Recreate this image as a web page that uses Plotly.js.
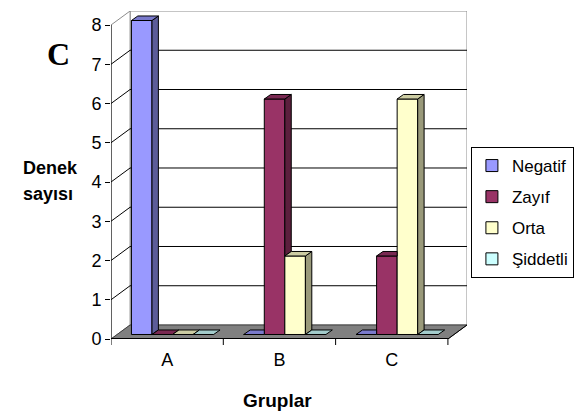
<!DOCTYPE html>
<html>
<head>
<meta charset="utf-8">
<script src="https://cdn.plot.ly/plotly-3.0.1.min.js"></script>
<style>
  html, body { margin: 0; padding: 0; background: #fff; }
  #chart { width: 585px; height: 417px; }
</style>
</head>
<body>
<div id="chart"></div>
<script>
// ---- Data ----
const groups = ['A', 'B', 'C'];
const seriesNames = ['Negatif', 'Zayıf', 'Orta', 'Şiddetli'];
const negatif = [8, 0, 0];
const zayif = [0, 6, 2];
const orta = [0, 2, 6];
const siddetli = [0, 0, 0];
const yTicks = [0, 1, 2, 3, 4, 5, 6, 7, 8];
const xTitle = 'Gruplar';
const yTitleLines = ['Denek', 'sayısı'];
const panelLabel = 'C';

// ---- Colours (front / top / side faces of each series) ----
const frontColors = ['#9999FF', '#993366', '#FFFFCC', '#CCFFFF'];
const topColors   = ['#7A7ACC', '#7A2952', '#CCCCA3', '#A3CCCC'];
const sideColors  = ['#5C5C99', '#5C1F3D', '#99997A', '#7A9999'];

// ---- 3-D look, in axis units ----
const WX = 0.17, WY = 0.357;   // offset of back wall from front plane
const BW = 0.183;              // bar width
const FX = 0.048, FY = 0.115;  // bar front face offset
const DX = 0.057, DY = 0.115;  // bar depth

const seriesValues = [negatif, zayif, orta, siddetli];
const yMax = yTicks[yTicks.length - 1];
const nCat = groups.length;
const xLo = -0.5, xHi = nCat - 0.5;
const font = 'Liberation Sans, Arial, sans-serif';

function barLeft(c, s) {
  return c + (s - (seriesValues.length - 1) / 2) * BW + FX - BW / 2;
}

function face(xs, ys, color) {
  return {
    type: 'scatter', mode: 'lines', x: xs.concat([xs[0]]), y: ys.concat([ys[0]]),
    fill: 'toself', fillcolor: color, line: { color: '#000', width: 1 },
    showlegend: false, hoverinfo: 'skip'
  };
}

// Front faces as bars
const traces = seriesValues.map((vals, s) => ({
  type: 'bar',
  name: seriesNames[s],
  legendgroup: seriesNames[s],
  x: groups.map((g, c) => barLeft(c, s) + BW / 2),
  y: vals,
  base: FY,
  width: BW,
  marker: { color: frontColors[s], line: { color: '#000', width: 1 } },
  hoverinfo: 'skip'
}));

// Top and side faces, hidden parts trimmed where the next bar stands in front
groups.forEach((g, c) => {
  seriesValues.forEach((vals, s) => {
    const v = vals[c];
    const next = s < seriesValues.length - 1 ? seriesValues[s + 1][c] : 0;
    const x0 = barLeft(c, s), x1 = x0 + BW, b = FY;
    if (v > next) {
      traces.push(face([x1, x1, x1 + DX, x1 + DX],
                       [b + next, b + v, b + v + DY, b + next + DY], sideColors[s]));
    }
    if (next > v) {
      traces.push(face([x0, x1, x1, x0 + DX],
                       [b + v, b + v, b + v + DY, b + v + DY], topColors[s]));
    } else {
      traces.push(face([x0, x1, x1 + DX, x0 + DX],
                       [b + v, b + v, b + v + DY, b + v + DY], topColors[s]));
    }
  });
});

// ---- Walls, floor, gridlines, axis lines ----
const shapes = [];
function pathShape(pts, fill, lineColor, lineWidth) {
  const d = pts.map((p, i) => (i ? 'L' : 'M') + p[0] + ',' + p[1]).join(' ') + ' Z';
  return { type: 'path', xref: 'x', yref: 'y', path: d, fillcolor: fill,
           line: { color: lineColor, width: lineWidth }, layer: 'below' };
}
function lineShape(x0, y0, x1, y1, color, width) {
  return { type: 'line', xref: 'x', yref: 'y', x0, y0, x1, y1,
           line: { color, width }, layer: 'below' };
}
// back wall
shapes.push(pathShape([[xLo + WX, WY], [xHi + WX, WY], [xHi + WX, yMax + WY], [xLo + WX, yMax + WY]],
                      '#FFFFFF', '#8C8C8C', 1));
// side wall
shapes.push(pathShape([[xLo, 0], [xLo, yMax], [xLo + WX, yMax + WY], [xLo + WX, WY]],
                      '#FFFFFF', '#8C8C8C', 1));
// gridlines on both walls
yTicks.forEach(t => {
  if (t === 0 || t === yMax) return;
  shapes.push(lineShape(xLo + WX, t + WY, xHi + WX, t + WY, '#000', 1));
  shapes.push(lineShape(xLo, t, xLo + WX, t + WY, '#000', 1));
});
// floor
shapes.push(pathShape([[xLo, 0], [xHi, 0], [xHi + WX, WY], [xLo + WX, WY]],
                      '#808080', '#404040', 1));
shapes.push(lineShape(xHi, 0, xHi + WX, WY, '#000', 1));
// front axis lines
shapes.push(lineShape(xLo, 0, xLo, yMax, '#000', 1));
shapes.push(lineShape(xLo, 0, xHi, 0, '#000', 2));
// category boundary ticks
for (let k = 0; k <= nCat; k++) {
  shapes.push({ type: 'line', xref: 'x', yref: 'paper', x0: xLo + k, x1: xLo + k,
                y0: 0, y1: -6 / 328, line: { color: '#000', width: 1 }, layer: 'above' });
}

// ---- Text ----
const plotL = 111, plotT = 11, plotW = 364, plotH = 328;
const px = x => (x - plotL) / plotW;
const py = y => (plotT + plotH - y) / plotH;
const annotations = [
  { text: panelLabel, xref: 'paper', yref: 'paper', x: px(57), y: py(54),
    showarrow: false, xanchor: 'center', yanchor: 'middle',
    font: { family: 'Liberation Serif, Times New Roman, serif', size: 32, color: '#000', weight: 'bold' } },
  { text: '<b>' + yTitleLines[0] + '</b>', xref: 'paper', yref: 'paper', x: px(49), y: py(168),
    showarrow: false, xanchor: 'center', yanchor: 'middle',
    font: { family: font, size: 18, color: '#000' } },
  { text: '<b>' + yTitleLines[1] + '</b>', xref: 'paper', yref: 'paper', x: px(47), y: py(194),
    showarrow: false, xanchor: 'center', yanchor: 'middle',
    font: { family: font, size: 18, color: '#000' } },
  { text: '<b>' + xTitle + '</b>', xref: 'paper', yref: 'paper', x: px(281), y: py(400),
    showarrow: false, xanchor: 'center', yanchor: 'middle',
    font: { family: font, size: 19, color: '#000' } }
];

const layout = {
  width: 585, height: 417,
  margin: { l: plotL, r: 585 - plotL - plotW, t: plotT, b: 417 - plotT - plotH, pad: 0 },
  paper_bgcolor: '#FFFFFF', plot_bgcolor: 'rgba(0,0,0,0)',
  barmode: 'overlay',
  hovermode: false,
  showlegend: true,
  legend: {
    x: px(479), xanchor: 'left', y: py(147), yanchor: 'top',
    bordercolor: '#000', borderwidth: 1, bgcolor: '#FFFFFF',
    font: { family: font, size: 17, color: '#000' },
    traceorder: 'grouped', tracegroupgap: 6
  },
  xaxis: {
    range: [xLo, xHi + WX], tickvals: groups.map((g, i) => i), ticktext: groups,
    ticks: '', showgrid: false, zeroline: false, showline: false,
    ticklabelstandoff: 8,
    tickfont: { family: font, size: 18, color: '#000' }, fixedrange: true
  },
  yaxis: {
    range: [0, yMax + WY], tickvals: yTicks, ticktext: yTicks.map(String),
    ticks: 'outside', ticklen: 5, tickwidth: 1, tickcolor: '#000',
    showgrid: false, zeroline: false, showline: false,
    tickfont: { family: font, size: 18, color: '#000' }, fixedrange: true
  },
  shapes, annotations
};

Plotly.newPlot('chart', traces, layout, { staticPlot: true, displayModeBar: false });
</script>
</body>
</html>
